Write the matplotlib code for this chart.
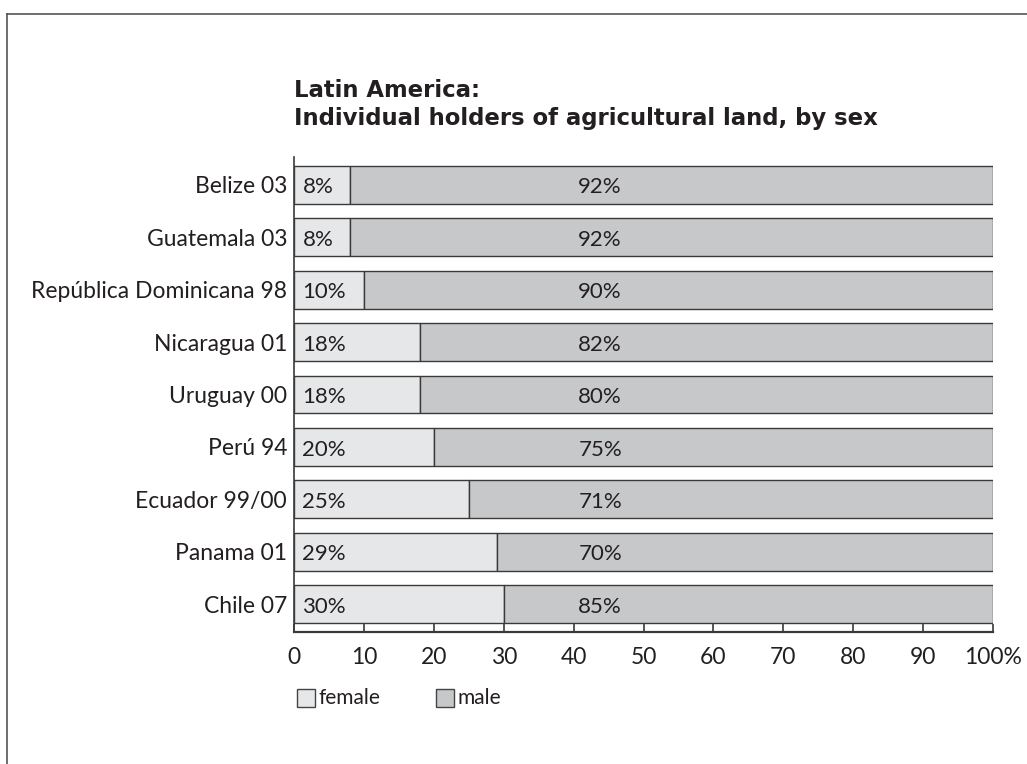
import numpy as np
import matplotlib.pyplot as plt
from matplotlib.lines import Line2D
from matplotlib.patches import Rectangle

plt.rcParams['font.family'] = ['Lato', 'DejaVu Sans']

# holders of agricultural land, share by sex (%)
countries = ['Belize 03', 'Guatemala 03', 'República Dominicana 98', 'Nicaragua 01',
             'Uruguay 00', 'Perú 94', 'Ecuador 99/00', 'Panama 01', 'Chile 07']
female = [8, 8, 10, 18, 18, 20, 25, 29, 30]
male_labels = [92, 92, 90, 82, 80, 75, 71, 70, 85]
xticks = [0, 10, 20, 30, 40, 50, 60, 70, 80, 90, 100]
xtick_labels = ['0', '10', '20', '30', '40', '50', '60', '70', '80', '90', '100%']

c_female = '#e6e7e8'
c_male = '#c7c8ca'
c_edge = '#3a3a3a'
c_text = '#231f20'

fig = plt.figure(figsize=(10.27, 7.64), dpi=100)
ax = fig.add_axes([0.2863, 0.1728, 0.6806, 0.6217])

y = np.arange(len(countries))
fem = np.array(female)
rest = 100 - fem   # male bar fills the remainder of the row

ax.barh(y, fem, height=0.72, color=c_female, edgecolor=c_edge, linewidth=1.0)
ax.barh(y, rest, left=fem, height=0.72, color=c_male, edgecolor=c_edge, linewidth=1.0)

for i in range(len(countries)):
    ax.text(1.2, y[i] + 0.05, f'{female[i]}%', ha='left', va='center', fontsize=16, color=c_text)
    ax.text(43.8, y[i] + 0.05, f'{male_labels[i]}%', ha='center', va='center', fontsize=16, color=c_text)

ax.set_ylim(len(countries) - 0.47, -0.53)
ax.set_xlim(0, 100)
ax.set_yticks(y)
ax.set_yticklabels(countries, fontsize=16.5, color=c_text)
ax.tick_params(axis='y', length=0, pad=5)
ax.set_xticks(xticks)
ax.set_xticklabels(xtick_labels, fontsize=16.5, color=c_text)
ax.tick_params(axis='x', direction='in', length=6, width=1.2, color=c_edge, pad=11)

for s in ['top', 'right']:
    ax.spines[s].set_visible(False)
ax.spines['left'].set_linewidth(1.2)
ax.spines['bottom'].set_linewidth(1.6)
ax.spines['left'].set_color(c_edge)
ax.spines['bottom'].set_color(c_edge)

# two-line title
title_kw = dict(family='DejaVu Sans', fontsize=16.4, fontweight='bold', ha='left',
                va='baseline', color=c_text)
fig.text(0.2863, 0.873, 'Latin America:', **title_kw)
fig.text(0.2863, 0.836, 'Individual holders of agricultural land, by sex', **title_kw)

# legend boxes
for x0, lab, col in [(0.2892, 'female', c_female), (0.4246, 'male', c_male)]:
    fig.add_artist(Rectangle((x0, 0.0746), 0.0175, 0.0236, transform=fig.transFigure,
                             facecolor=col, edgecolor='#444444', linewidth=1))
    fig.text(x0 + 0.0205, 0.0864, lab, fontsize=15, ha='left', va='center', color=c_text)

# page frame
fig.add_artist(Line2D([0.0068, 0.0068], [0.0, 0.982], transform=fig.transFigure, color='#555555', lw=1.2))
fig.add_artist(Line2D([0.0068, 1.0], [0.982, 0.982], transform=fig.transFigure, color='#555555', lw=1.2))

plt.savefig('out.png', dpi=100)
